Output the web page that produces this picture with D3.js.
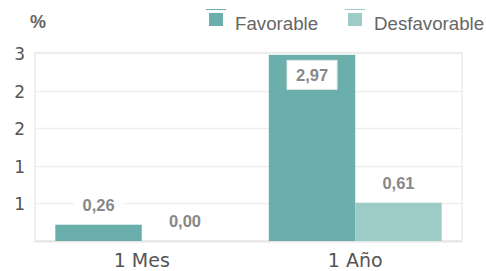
<!DOCTYPE html>
<html>
<head>
<meta charset="utf-8">
<script src="https://cdn.jsdelivr.net/npm/d3@7"></script>
<style>
  body { margin: 0; background: #fff; }
</style>
</head>
<body>
<script>
var width = 486;
var height = 271;
var categories = ["1 Mes", "1 Año"];
var seriesNames = ["Favorable", "Desfavorable"];
var favorable = [0.26, 2.97];
var desfavorable = [0.00, 0.61];
var yTicks = [0.6, 1.2, 1.8, 2.4, 3.0];
var colors = ["#6aafab", "#9dcbc8"];

var plotLeft = 35, plotRight = 462, plotTop = 53, plotBottom = 241;

var svg = d3.select("body")
            .append("svg")
            .attr("width", width)
            .attr("height", height);

var x0 = d3.scaleBand().domain(categories).range([plotLeft, plotRight]).paddingInner(0).paddingOuter(0);
var x1 = d3.scaleBand().domain(seriesNames).range([0, x0.bandwidth()]).paddingOuter(0.235).paddingInner(0);
var y = d3.scaleLinear().domain([0, 3]).range([plotBottom, plotTop]);
var fmt = function(v) { return d3.format(".2f")(v).replace(".", ","); };

// gridlines
svg.selectAll(".grid")
    .data(yTicks)
    .enter()
    .append("line")
    .attr("x1", plotLeft).attr("x2", plotRight)
    .attr("y1", function(d) { return Math.round(y(d)) + 0.5; })
    .attr("y2", function(d) { return Math.round(y(d)) + 0.5; })
    .style("stroke", "#efefef")
    .style("stroke-width", 1.5);

// frame
svg.append("rect")
    .attr("x", plotLeft).attr("y", plotTop - 0.5)
    .attr("width", plotRight - plotLeft).attr("height", plotBottom - plotTop + 0.5)
    .style("fill", "none")
    .style("stroke", "#ececec")
    .style("stroke-width", 1.5);
svg.append("line")
    .attr("x1", plotLeft).attr("x2", plotRight)
    .attr("y1", plotBottom + 0.5).attr("y2", plotBottom + 0.5)
    .style("stroke", "#e6e6e6")
    .style("stroke-width", 2);

// y tick labels
svg.selectAll(".ytick")
    .data(yTicks)
    .enter()
    .append("text")
    .attr("x", 25)
    .attr("y", function(d) { return y(d) + 2; })
    .attr("text-anchor", "end")
    .attr("dominant-baseline", "middle")
    .style("font-family", "DejaVu Sans, Verdana, sans-serif")
    .style("font-size", "17px")
    .style("fill", "#555")
    .text(function(d) { return d3.format(".0f")(d); });

// "%" unit
svg.append("text")
    .attr("x", 30).attr("y", 28)
    .style("font-family", "Liberation Sans, Arial, sans-serif")
    .style("font-weight", "bold")
    .style("font-size", "18px")
    .style("fill", "#666")
    .text("%");

// bars
var rows = categories.map(function(c, i) {
    return [{cat: c, name: seriesNames[0], value: favorable[i], color: colors[0]},
            {cat: c, name: seriesNames[1], value: desfavorable[i], color: colors[1]}];
});
var flat = [].concat.apply([], rows);

svg.selectAll(".bar")
    .data(flat)
    .enter()
    .append("rect")
    .attr("class", "bar")
    .attr("x", function(d) { return x0(d.cat) + x1(d.name); })
    .attr("y", function(d) { return y(d.value); })
    .attr("width", x1.bandwidth())
    .attr("height", function(d) { return plotBottom - y(d.value); })
    .style("fill", function(d) { return d.color; });

// data labels
var inside = function(d) { return y(d.value) - plotTop < 40; };
var labels = svg.selectAll(".lbl")
    .data(flat)
    .enter()
    .append("g")
    .attr("transform", function(d) {
        var cx = x0(d.cat) + x1(d.name) + x1.bandwidth() / 2;
        var barTop = y(d.value);
        var cy = inside(d) ? barTop + 20 : barTop - 20;
        return "translate(" + cx + "," + cy + ")";
    });
labels.append("rect")
    .attr("x", -25).attr("y", -14.5)
    .attr("width", 50).attr("height", 29)
    .style("fill", "#fff")
    .style("stroke", function(d) { return inside(d) ? "#e8e8e8" : "none"; });
labels.append("text")
    .attr("text-anchor", "middle")
    .attr("dominant-baseline", "central")
    .style("font-family", "Liberation Sans, Arial, sans-serif")
    .style("font-weight", "bold")
    .style("font-size", "16.5px")
    .style("fill", "#888")
    .text(function(d) { return fmt(d.value); });

// x labels
svg.selectAll(".xlbl")
    .data(categories)
    .enter()
    .append("text")
    .attr("x", function(d) { return x0(d) + x0.bandwidth() / 2; })
    .attr("y", 267)
    .attr("text-anchor", "middle")
    .style("font-family", "DejaVu Sans, Verdana, sans-serif")
    .style("font-size", "19px")
    .style("fill", "#555")
    .text(function(d) { return d; });

// legend
var legendX = [209, 348];
var legend = svg.selectAll("g.legend")
    .data(seriesNames)
    .enter()
    .append("g")
    .attr("class", "legend")
    .attr("transform", function(d, i) { return "translate(" + legendX[i] + ",0)"; });
legend.append("line")
    .attr("x1", -3).attr("x2", 17)
    .attr("y1", 9.5).attr("y2", 9.5)
    .style("stroke", function(d, i) { return colors[i]; })
    .style("stroke-width", 1);
legend.append("rect")
    .attr("x", 0).attr("y", 13)
    .attr("width", 14).attr("height", 13)
    .style("fill", function(d, i) { return colors[i]; });
legend.append("text")
    .attr("x", 26).attr("y", 30)
    .style("font-family", "Liberation Sans, Arial, sans-serif")
    .style("font-size", "18.7px")
    .style("fill", "#666")
    .text(function(d) { return d; });
</script>
</body>
</html>
